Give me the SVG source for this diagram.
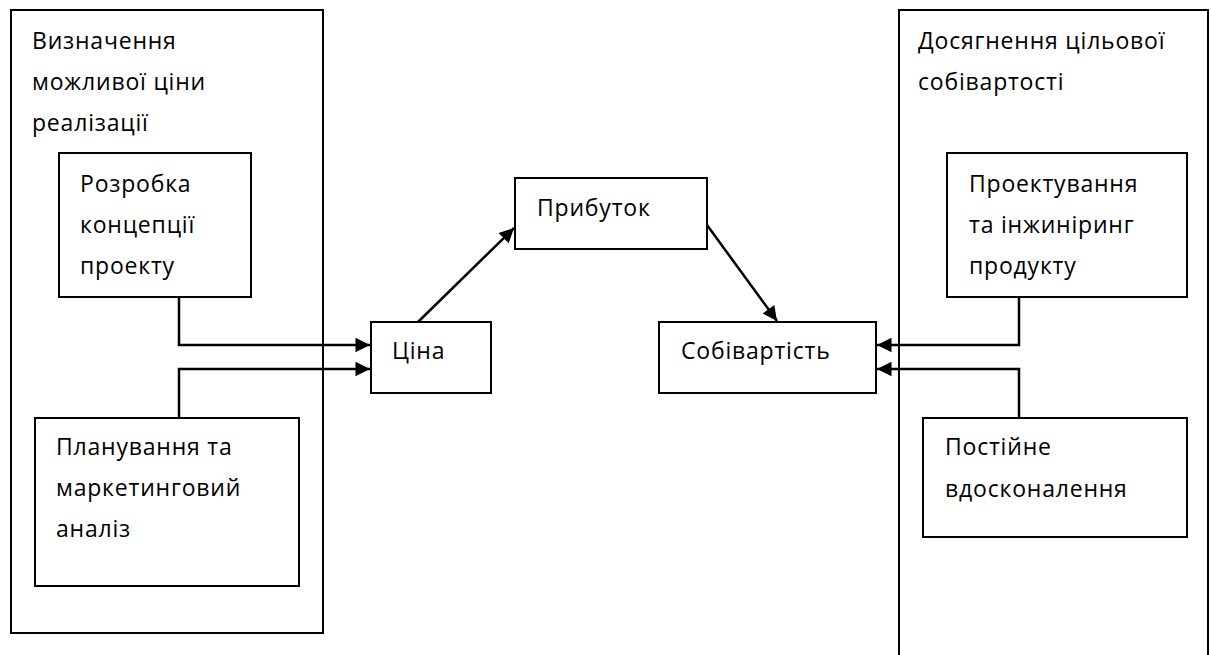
<svg xmlns="http://www.w3.org/2000/svg" width="1211" height="655" viewBox="0 0 1211 655">
<style>
.box{fill:#fff;stroke:#000;stroke-width:2}
.frame{fill:none;stroke:#000;stroke-width:2}
.lbl{font-family:"Open Sans","Liberation Sans",sans-serif;font-size:23px;letter-spacing:0.8px;fill:#000}
.con{fill:none;stroke:#000;stroke-width:2.5}
</style>
<defs>
<marker id="ah" viewBox="0 0 10 10" refX="10" refY="5" markerWidth="7" markerHeight="5.8" markerUnits="strokeWidth" orient="auto">
<path d="M0,0 L10,5 L0,10 z" fill="#000"/>
</marker>
</defs>
<rect width="1211" height="655" fill="#fff"/>
<g id="left-group">
<rect class="frame" x="11" y="10" width="312" height="623"/>
<text class="lbl"><tspan x="32" y="49">Визначення</tspan><tspan x="32" y="90">можливої ціни</tspan><tspan x="32" y="131">реалізації</tspan></text>
</g>
<g id="right-group">
<path class="frame" d="M899,660 L899,10 L1208,10 L1208,660"/>
<text class="lbl"><tspan x="918" y="49">Досягнення цільової</tspan><tspan x="918" y="90">собівартості</tspan></text>
</g>
<g id="concept">
<rect class="box" x="59" y="153" width="192" height="144"/>
<text class="lbl"><tspan x="80" y="192">Розробка</tspan><tspan x="80" y="233">концепції</tspan><tspan x="80" y="274">проекту</tspan></text>
</g>
<g id="planning">
<rect class="box" x="35" y="418" width="264" height="168"/>
<text class="lbl"><tspan x="56" y="455">Планування та</tspan><tspan x="56" y="496">маркетинговий</tspan><tspan x="56" y="537">аналіз</tspan></text>
</g>
<g id="price">
<rect class="box" x="371" y="322" width="120" height="71"/>
<text class="lbl" x="392" y="359">Ціна</text>
</g>
<g id="profit">
<rect class="box" x="515" y="178" width="192" height="71"/>
<text class="lbl" x="537" y="216">Прибуток</text>
</g>
<g id="cost">
<rect class="box" x="659" y="322" width="217" height="71"/>
<text class="lbl" x="681" y="359">Собівартість</text>
</g>
<g id="design">
<rect class="box" x="947" y="153" width="240" height="144"/>
<text class="lbl"><tspan x="969" y="192">Проектування</tspan><tspan x="969" y="233">та інжиніринг</tspan><tspan x="969" y="274">продукту</tspan></text>
</g>
<g id="improve">
<rect class="box" x="923" y="418" width="264" height="119"/>
<text class="lbl"><tspan x="945" y="455">Постійне</tspan><tspan x="945" y="497">вдосконалення</tspan></text>
</g>
<g id="connectors">
<path class="con" d="M179,297 L179,345 L370,345" marker-end="url(#ah)"/>
<path class="con" d="M179,418 L179,369 L370,369" marker-end="url(#ah)"/>
<path class="con" d="M418,322 L514,228" marker-end="url(#ah)"/>
<path class="con" d="M707,225 L777,321" marker-end="url(#ah)"/>
<path class="con" d="M1019,297 L1019,345 L877,345" marker-end="url(#ah)"/>
<path class="con" d="M1019,418 L1019,369 L877,369" marker-end="url(#ah)"/>
</g>
</svg>
